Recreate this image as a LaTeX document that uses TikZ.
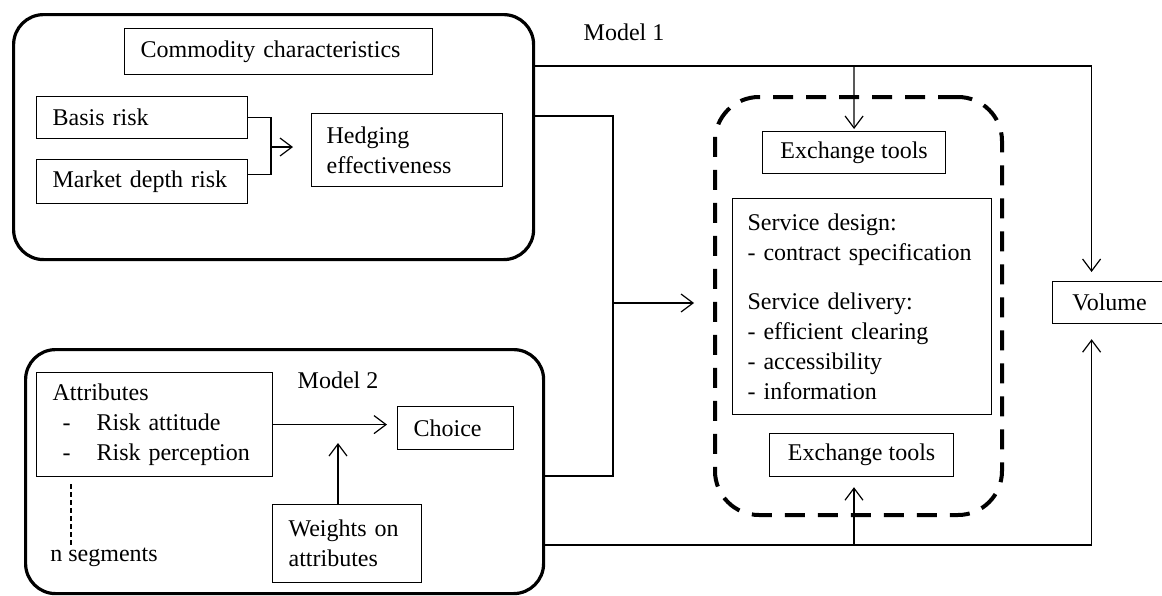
\documentclass[tikz,border=0pt]{standalone}
\usepackage{fontspec}
\setmainfont{Liberation Serif}
\usetikzlibrary{arrows.meta}

\begin{document}
\begin{tikzpicture}
[x=0.5pt,y=-0.5pt,font=\fontsize{12}{15}\selectfont,
 model/.style={draw,line width=1.6pt,rounded corners=15pt,anchor=north west,inner sep=0pt},
 box/.style={draw,line width=0.6pt,anchor=north west,inner ysep=0pt,inner xsep=8pt,align=left},
 cbox/.style={draw,line width=0.6pt,anchor=north west,inner sep=0pt,align=center},
 tools/.style={draw,line width=2pt,dash pattern=on 10pt off 6.5pt,rounded corners=22pt,anchor=north west,inner sep=0pt},
 link/.style={line width=0.6pt},
 arr/.style={link,-{Straight Barb[length=6pt,width=9pt]}}]

\useasboundingbox (0,0) rectangle (1162,595);

% Model 1
\node[model,minimum width=260pt,minimum height=122.5pt] (m1) at (12,13) {};
\node[box,minimum height=23pt,text width=138pt] (cc) at (124,28) {Commodity characteristics};
\node[box,minimum height=21pt,text width=89.5pt] (br) at (36,96) {Basis risk};
\node[box,minimum height=22pt,text width=89.5pt] (md) at (36,159) {Market depth risk};
\node[box,inner xsep=7.5pt,minimum height=36.5pt,text width=80.5pt] (he) at (311,113) {Hedging\\effectiveness};
\node (l1) at (624,32) {Model 1};

% exchange
\node[tools,minimum width=143.5pt,minimum height=209pt] (sv) at (713,95) {};
\node[cbox,minimum width=91.5pt,minimum height=21pt] (et1) at (762,131) {Exchange tools};
\node[box,inner xsep=7.5pt,minimum height=108pt,text width=114.5pt] (sd) at (732,198)
  {Service design:\\- contract specification\\[9.5pt]Service delivery:\\- efficient clearing\\- accessibility\\- information};
\node[cbox,minimum width=92pt,minimum height=21.5pt] (et2) at (769,433) {Exchange tools};
\node[cbox,minimum width=57pt,minimum height=21pt] (vol) at (1052,281) {Volume};

% Model 2
\node[model,minimum width=259pt,minimum height=122pt] (m2) at (24,348) {};
\node[box,minimum height=52pt,text width=102pt] (at) at (36,372)
  {Attributes\\\hspace*{5pt}-\hspace{13pt}Risk attitude\\\hspace*{5pt}-\hspace{13pt}Risk perception};
\node (l2) at (338,380) {Model 2};
\node[box,minimum height=21.5pt,text width=42pt] (ch) at (397,406) {Choice};
\node[box,minimum height=39pt,text width=58.5pt] (wt) at (272,504) {Weights on\\attributes};
\node[anchor=west,inner sep=0pt] (ns) at (50,557) {n segments};

% bracket
\coordinate (jn) at (271,147);
\coordinate (jt) at (293,147);
\draw[link] (br.east) -| (jn) |- ([yshift=3.5pt]md.east);
\draw[arr] (jn) -- (jt);

% Model 1 out
\coordinate (s1) at (854,66);
\draw[arr,shorten >=4.5pt] ([yshift=-26.5pt]m1.north east) -| ([xshift=-9pt]vol.north);
\draw[arr,shorten >=1pt] (s1) -- (et1.north);

% both models into the tools
\coordinate (s2) at (613,303);
\coordinate (s2t) at (694,303);
\draw[link] ([yshift=-51.5pt]m1.north east) -| (s2) |- ([yshift=-64pt]m2.north east);
\draw[arr] (s2) -- (s2t);

% Model 2 out
\coordinate (s3) at (854,545);
\draw[arr,shorten >=7.5pt] ([yshift=-98.5pt]m2.north east) -| ([xshift=-9pt]vol.south);
\draw[arr,shorten >=5pt] (s3) -- (s3 |- et2.south);

% inside Model 2
\coordinate (wtip) at (338,443);
\draw[arr,shorten >=5pt] (at.east) -- (at.east -| ch.west);
\draw[arr] (wtip |- wt.north) -- (wtip);
\draw[link,dash pattern=on 2.5pt off 1.5pt] ([xshift=17.5pt,yshift=-3.5pt]at.south west) -- ([xshift=17.5pt]at.south west |- ns.north);
\end{tikzpicture}
\end{document}
